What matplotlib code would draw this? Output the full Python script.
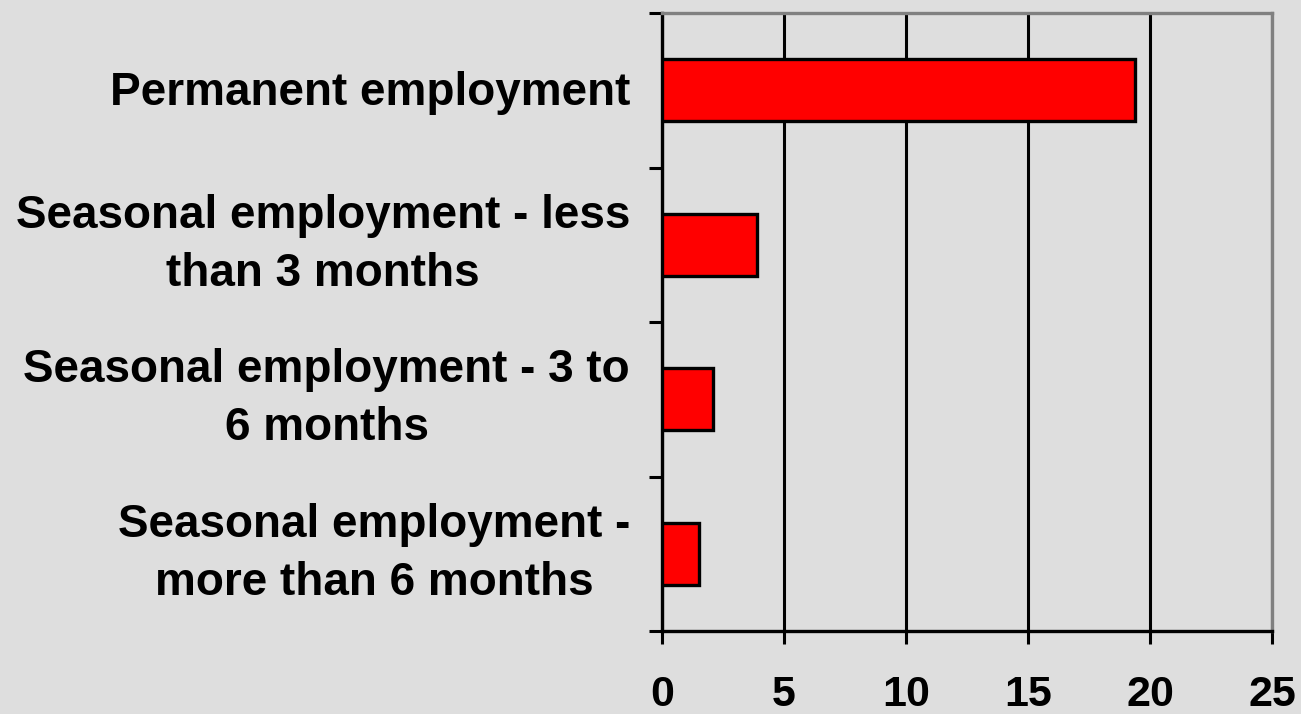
import matplotlib
matplotlib.use("Agg")
import matplotlib.pyplot as plt

# 雇用形態別の値（上から順）
categories = [
    "Permanent employment",
    "Seasonal employment - less\nthan 3 months",
    "Seasonal employment - 3 to\n6 months",
    "Seasonal employment -\nmore than 6 months",
]
values = [19.4, 3.9, 2.1, 1.5]
x_ticks = [0, 5, 10, 15, 20, 25]

BG = "#dedede"

plt.rcParams["font.family"] = ["Liberation Sans", "DejaVu Sans"]
plt.rcParams["font.weight"] = "bold"

fig = plt.figure(figsize=(13.01, 7.14), dpi=100, facecolor=BG)
ax = fig.add_axes([0.5088, 0.1162, 0.4689, 0.8656])
ax.set_facecolor(BG)

n = len(categories)
pos = list(range(n))[::-1]
ax.barh(pos, values, height=0.4, color="#ff0000", edgecolor="black",
        linewidth=2.4, zorder=3)

ax.set_xlim(0, 25)
ax.set_ylim(-0.5, n - 0.5)

ax.set_xticks(x_ticks)
ax.set_xticklabels([str(t) for t in x_ticks], fontsize=31, fontweight="bold")

# 目盛り線はカテゴリの境界だけ、ラベルは別に置く
ax.set_yticks([-0.5 + i for i in range(n + 1)])
ax.set_yticklabels([])

for p, label in zip(pos, categories):
    dy = 0 if "\n" in label else -2
    ax.annotate(label, xy=(0, p), xycoords=("axes fraction", "data"),
                xytext=(-23, dy), textcoords="offset points",
                ha="right", va="center", multialignment="center",
                fontsize=33, fontweight="bold", linespacing=1.4,
                annotation_clip=False)

ax.tick_params(axis="y", length=9.5, width=2.2, color="black")
ax.tick_params(axis="x", length=9.5, width=2.2, color="black", pad=22)

ax.xaxis.grid(True, color="black", linewidth=2.2, zorder=1)
ax.set_axisbelow(True)

for side in ["left", "bottom"]:
    ax.spines[side].set_color("black")
    ax.spines[side].set_linewidth(2.4)
for side in ["top", "right"]:
    ax.spines[side].set_color("#808080")
    ax.spines[side].set_linewidth(2.4)

fig.savefig("out.png", dpi=100, facecolor=BG)
